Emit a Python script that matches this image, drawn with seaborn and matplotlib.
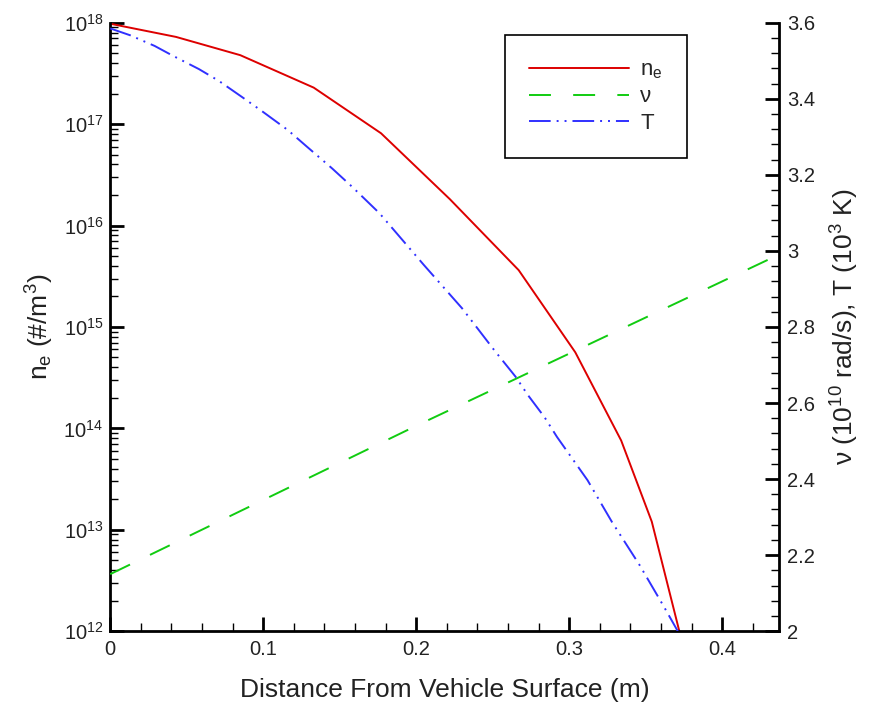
import matplotlib
matplotlib.use('Agg')
import matplotlib.pyplot as plt
import matplotlib.ticker as mticker
import seaborn as sns
import numpy as np

# electron density n_e (#/m^3) (log axis)
ne_x = [0.0, 0.043, 0.085, 0.133, 0.177, 0.222, 0.267, 0.304, 0.334, 0.354, 0.372]
ne_log = [17.99, 17.86, 17.68, 17.36, 16.91, 16.26, 15.56, 14.75, 13.88, 13.08, 12.0]

# collision frequency nu (1e10 rad/s), right axis
nu_x = [0.0, 0.2, 0.437]
nu_val = [2.15, 2.54, 2.99]

# temperature T (1e3 K), right axis
t_x = [0.0, 0.013, 0.029, 0.041, 0.058, 0.071, 0.086, 0.099, 0.116, 0.128, 0.145,
       0.158, 0.176, 0.205, 0.230, 0.251, 0.265, 0.273, 0.284, 0.292, 0.312, 0.328,
       0.346, 0.362, 0.371]
t_val = [3.585, 3.567, 3.539, 3.513, 3.478, 3.447, 3.405, 3.368, 3.318, 3.276, 3.217,
         3.169, 3.099, 2.963, 2.849, 2.739, 2.669, 2.621, 2.562, 2.511, 2.397, 2.287,
         2.174, 2.064, 2.0]

sns.set_style('ticks')
plt.rcParams['font.family'] = ['Liberation Sans', 'DejaVu Sans']
plt.rcParams['mathtext.fontset'] = 'custom'
plt.rcParams['mathtext.rm'] = 'Liberation Sans'
plt.rcParams['mathtext.it'] = 'Liberation Sans'
plt.rcParams['lines.scale_dashes'] = False

red = '#dd0000'
green = '#11cc11'
blue = '#3030ff'

fig = plt.figure(figsize=(8.75, 7.1), dpi=100)
ax = fig.add_axes([0.126, 0.111, 0.764, 0.857])
ax2 = ax.twinx()

sns.lineplot(x=ne_x, y=10 ** np.array(ne_log), ax=ax, color=red, linewidth=1.4,
             label='n$_e$', legend=False)
sns.lineplot(x=nu_x, y=nu_val, ax=ax2, color=green, linewidth=1.4,
             linestyle=(0, (15.8, 16.0)), label='ν', legend=False)
sns.lineplot(x=t_x, y=t_val, ax=ax2, color=blue, linewidth=1.4,
             linestyle=(0, (15.6, 4.3, 1.4, 4.3, 1.4, 4.3)), label='T', legend=False)

ax.set_yscale('log')
ax.set_ylim(1e12, 1e18)
ax.set_xlim(0, 0.437)
ax2.set_ylim(2, 3.6)

ax.xaxis.set_major_locator(mticker.MultipleLocator(0.1))
ax.xaxis.set_minor_locator(mticker.MultipleLocator(0.02))
ax.xaxis.set_major_formatter(mticker.FormatStrFormatter('%g'))
ax.yaxis.set_major_locator(mticker.LogLocator(base=10, numticks=10))
ax.yaxis.set_minor_locator(mticker.LogLocator(base=10, subs=np.arange(2, 10), numticks=10))
ax.yaxis.set_minor_formatter(mticker.NullFormatter())
ax2.yaxis.set_major_locator(mticker.MultipleLocator(0.2))
ax2.yaxis.set_minor_locator(mticker.MultipleLocator(0.04))
ax2.yaxis.set_major_formatter(mticker.FormatStrFormatter('%g'))

for a in (ax, ax2):
    a.spines['top'].set_visible(False)
    for s in ('left', 'right', 'bottom'):
        a.spines[s].set_linewidth(2.0)
        a.spines[s].set_color('black')
    a.tick_params(which='major', direction='in', length=10, width=2.0,
                  labelsize=14.5, pad=5, color='black', labelcolor='#222222')
    a.tick_params(which='minor', direction='in', length=6, width=1.0, color='black')
ax.tick_params(axis='x', pad=6)
ax2.tick_params(axis='y', pad=6)
ax.spines['right'].set_visible(False)
ax2.spines['left'].set_visible(False)
ax2.spines['bottom'].set_visible(False)

ax.set_xlabel('Distance From Vehicle Surface (m)', fontsize=19, labelpad=14,
              color='#222222')
ax.set_ylabel('n$_e$ (#/m$^3$)', fontsize=19, labelpad=5, color='#222222')
ax2.set_ylabel('ν (10$^{10}$ rad/s), T (10$^3$ K)', fontsize=19, labelpad=10,
               color='#222222')

handles = ax.get_lines()[:1] + ax2.get_lines()[:2]
leg = ax2.legend(handles, ['n$_e$', 'ν', 'T'], loc='upper left',
                 bbox_to_anchor=(0.59, 0.98), borderaxespad=0, fontsize=16,
                 handlelength=4.5, handletextpad=0.5, labelspacing=0.25,
                 borderpad=1.1, fancybox=False, framealpha=1, edgecolor='black')
leg.get_frame().set_linewidth(1.2)

fig.savefig('out.png', dpi=100)
